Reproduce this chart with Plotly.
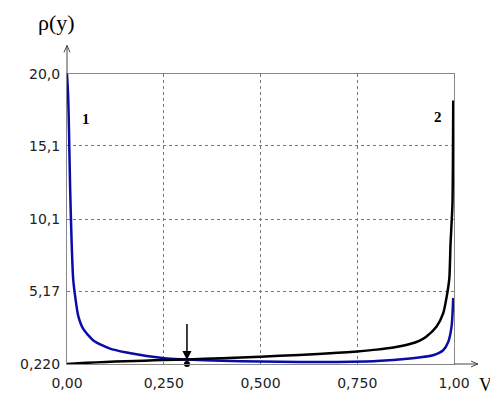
import plotly.graph_objects as go

# ---- data ----
x_blue = [0.0, 0.003, 0.005, 0.008, 0.012, 0.016, 0.021, 0.029, 0.042, 0.068, 0.111, 0.154, 0.206,
          0.258, 0.31, 0.4, 0.5, 0.6, 0.7, 0.8, 0.886, 0.946, 0.972, 0.985, 0.994, 0.998]
y_blue = [20.0, 18.5, 16.3, 12.3, 8.5, 6.0, 4.85, 3.5, 2.61, 1.83, 1.27, 1.0, 0.76,
          0.6, 0.52, 0.44, 0.39, 0.36, 0.36, 0.42, 0.6, 0.82, 1.16, 1.72, 2.84, 4.73]

x_black = [0.0, 0.05, 0.1, 0.15, 0.2, 0.25, 0.31, 0.4, 0.5, 0.6, 0.7, 0.75, 0.8, 0.85,
           0.886, 0.91, 0.929, 0.955, 0.972, 0.981, 0.988, 0.991, 0.996, 0.998]
y_black = [0.22, 0.3, 0.36, 0.41, 0.45, 0.49, 0.53, 0.62, 0.72, 0.84, 0.98, 1.08, 1.2, 1.38,
           1.58, 1.8, 2.1, 2.78, 3.67, 4.8, 6.1, 8.4, 11.1, 18.2]

x_ticks = [0.0, 0.25, 0.5, 0.75, 1.0]
x_ticklabels = ["0,00", "0,250", "0,500", "0,750", "1,00"]
y_ticks = [0.22, 5.17, 10.1, 15.1, 20.0]
y_ticklabels = ["0,220", "5,17", "10,1", "15,1", "20,0"]

marker_x = 0.31
curve_labels = [("1", 0.049, 16.9), ("2", 0.959, 17.1)]

# ---- layout geometry (pixels); the page body adds an 8px offset ----
OFF = 8
W, H = 490, 395
L, R, T, B = 59, 44, 66, 34
pw, ph = W - L - R, H - T - B


def px2paper(px, py):
    # px, py are viewport pixel coordinates
    return (px - OFF - L) / pw, (H - B - (py - OFF)) / ph


fig = go.Figure()
fig.add_trace(go.Scatter(x=x_blue, y=y_blue, mode="lines",
                         line=dict(color="#0b0ba8", width=2.5, shape="spline", smoothing=0.6),
                         showlegend=False))
fig.add_trace(go.Scatter(x=x_black, y=y_black, mode="lines",
                         line=dict(color="#000000", width=2.5, shape="spline", smoothing=0.6),
                         showlegend=False))
fig.add_trace(go.Scatter(x=[marker_x], y=[y_ticks[0]], mode="markers",
                         marker=dict(color="black", size=6), cliponaxis=False,
                         showlegend=False))

axis_font = dict(family="DejaVu Sans", size=14, color="#222")
fig.update_xaxes(range=[0, 1], tickvals=x_ticks, ticktext=x_ticklabels,
                 showgrid=True, gridcolor="#777", griddash="dot", gridwidth=1,
                 showline=True, linecolor="#888", linewidth=1, mirror=True,
                 zeroline=False, ticks="", tickfont=axis_font, ticklabelstandoff=6)
fig.update_yaxes(range=[y_ticks[0], y_ticks[-1]], tickvals=y_ticks, ticktext=y_ticklabels,
                 showgrid=True, gridcolor="#777", griddash="dot", gridwidth=1,
                 showline=True, linecolor="#888", linewidth=1, mirror=True,
                 zeroline=False, ticks="", tickfont=axis_font, ticklabelstandoff=3)

shapes = []
line_style = dict(color="#444", width=1)
# y axis extension with arrow
x0, y0 = px2paper(67, 74)
x1, y1 = px2paper(67, 45)
shapes.append(dict(type="line", xref="paper", yref="paper", x0=x0, y0=y0, x1=x1, y1=y1, line=line_style))
a0 = px2paper(64, 52); a1 = px2paper(70, 52)
shapes.append(dict(type="line", xref="paper", yref="paper", x0=a0[0], y0=a0[1], x1=x1, y1=y1, line=line_style))
shapes.append(dict(type="line", xref="paper", yref="paper", x0=a1[0], y0=a1[1], x1=x1, y1=y1, line=line_style))
# x axis extension with arrow
x0, y0 = px2paper(454, 369)
x1, y1 = px2paper(478, 369)
shapes.append(dict(type="line", xref="paper", yref="paper", x0=x0, y0=y0, x1=x1, y1=y1, line=line_style))
a0 = px2paper(471, 366); a1 = px2paper(471, 372)
shapes.append(dict(type="line", xref="paper", yref="paper", x0=a0[0], y0=a0[1], x1=x1, y1=y1, line=line_style))
shapes.append(dict(type="line", xref="paper", yref="paper", x0=a1[0], y0=a1[1], x1=x1, y1=y1, line=line_style))

annotations = []
# axis titles
tx, ty = px2paper(56, 22)
annotations.append(dict(text="ρ(y)", xref="paper", yref="paper", x=tx, y=ty, showarrow=False,
                        font=dict(family="Liberation Serif", size=22, color="black"),
                        xanchor="center", yanchor="middle"))
tx, ty = px2paper(485, 390)
annotations.append(dict(text="V", xref="paper", yref="paper", x=tx, y=ty, showarrow=False,
                        font=dict(family="Liberation Serif", size=18, color="black"),
                        xanchor="center", yanchor="middle"))
# curve numbers
for txt, cx, cy in curve_labels:
    annotations.append(dict(text="<b>%s</b>" % txt, x=cx, y=cy, xref="x", yref="y", showarrow=False,
                            font=dict(family="Liberation Serif", size=15, color="black")))
# marker arrow
annotations.append(dict(x=marker_x, y=0.5, xref="x", yref="y", ax=marker_x, ay=3.05,
                        axref="x", ayref="y", showarrow=True, arrowhead=2, arrowsize=1.2,
                        arrowwidth=1.5, arrowcolor="black", text=""))

fig.update_layout(width=W, height=H, autosize=False,
                  margin=dict(l=L, r=R, t=T, b=B, pad=0),
                  plot_bgcolor="white", paper_bgcolor="white",
                  shapes=shapes, annotations=annotations)

fig.write_html("out.html")
